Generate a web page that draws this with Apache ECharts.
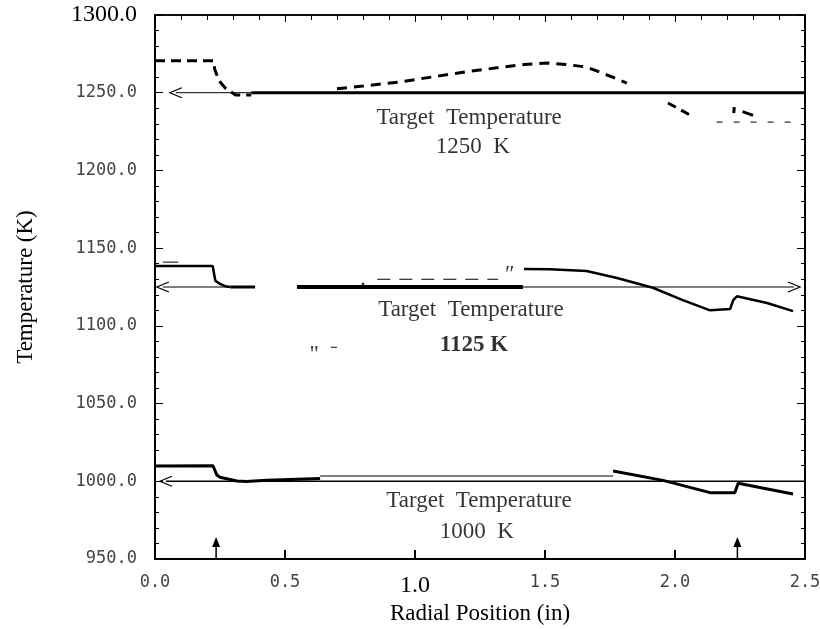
<!DOCTYPE html>
<html><head><meta charset="utf-8">
<script src="https://cdn.jsdelivr.net/npm/echarts@6/dist/echarts.min.js"></script>
<style>html,body{margin:0;padding:0;background:#fff}#c{width:820px;height:629px}</style>
</head><body><div id="c"></div>
<script>
// ---------- data (x in inches, y in K) ----------
const xTickLabels = ['0.0', '0.5', '1.0', '1.5', '2.0', '2.5'];
const yTickLabels = ['950.0', '1000.0', '1050.0', '1100.0', '1150.0', '1200.0', '1250.0', '1300.0'];

// 1250 K case
const target1250Thin = [[0.08, 1250], [0.37, 1250]];
const target1250Thick = [[0.37, 1250], [2.5, 1250]];
const profile1250A = [[0, 1270.5], [0.225, 1270.5], [0.23, 1265], [0.245, 1258], [0.27, 1253], [0.31, 1248.5], [0.37, 1248.5]];
const profile1250B = [[0.70, 1252.5], [0.80, 1254.3], [0.94, 1256.9], [1.10, 1261], [1.20, 1263.6], [1.315, 1266], [1.42, 1268.2], [1.508, 1269.1], [1.58, 1268.2], [1.66, 1266.5], [1.76, 1260], [1.815, 1256.2]];
const profile1250C = [[1.973, 1243.4], [2.058, 1235.6]];
const profile1250D = [[2.16, 1231.1], [2.45, 1231.1]];
const profile1250E = [[2.226, 1236.9], [2.228, 1240.8]];
const profile1250F = [[2.26, 1237.8], [2.30, 1235.4]];

// 1125 K case
const target1125Left = [[0.03, 1125], [0.29, 1125]];
const target1125ThickA = [[0.29, 1125], [0.385, 1125]];
const target1125ThickB = [[0.546, 1125], [1.415, 1125]];
const target1125Right = [[1.415, 1125], [2.458, 1125]];
const profile1125A = [[0, 1138.5], [0.222, 1138.5], [0.232, 1129], [0.25, 1127], [0.27, 1125.5], [0.29, 1125]];
const profile1125Mark = [[0.03, 1141], [0.09, 1141]];
const profile1125Dashed = [[0.855, 1130], [1.32, 1130]];
const profile1125Dot = [[0.80, 1127]];
const profile1125B = [[1.419, 1136.6], [1.519, 1136.4], [1.66, 1135.3], [1.777, 1130.8], [1.915, 1124.5], [2.03, 1116.6], [2.135, 1110], [2.212, 1110.8], [2.224, 1116.6], [2.238, 1119], [2.354, 1114.7], [2.454, 1109.5]];

// 1000 K case
const target1000 = [[0.042, 1000], [2.5, 1000]];
const profile1000A = [[0, 1009.8], [0.223, 1010], [0.238, 1004], [0.25, 1002.6], [0.315, 1000.2], [0.35, 999.8], [0.43, 1000.6], [0.635, 1001.8]];
const profile1000Hollow = [[0.635, 1003.4], [1.762, 1003.4]];
const profile1000B = [[1.762, 1006.6], [1.954, 1000.6], [2.135, 992.7], [2.23, 992.7], [2.243, 998.7], [2.454, 991.8]];

// marker arrows at the bottom
const markerArrowA = [[0.235, 950], [0.235, 961]];
const markerArrowB = [[2.24, 950], [2.24, 961]];

// annotation texts
const annotationX = [1.208, 1.222, 1.215, 1.227, 1.246, 1.238, 1.365, 0.65];
const annotationY = [1233.8, 1215.1, 1110.0, 1087.6, 987.1, 967.2, 1132.5, 1081];
const annotationText = ['Target  Temperature', '1250  K', 'Target  Temperature', '1125 K', 'Target  Temperature', '1000  K', '\u2033', '"  \u207B'];
const annotationBold = [false, false, false, true, false, false, false, false];

// ---------- build ----------
const LEFT_ARROW = 'path://M12,0 L0,6 L12,12';
const RIGHT_ARROW = 'path://M0,0 L12,6 L0,12';
const BLACK = '#000';
const series = [];

function lineSeries(data, width, type, opts) {
  opts = opts || {};
  const d = data.map((p, i) => {
    const item = { value: p };
    if (opts.startArrow && i === 0) {
      item.symbol = opts.startArrow; item.symbolSize = [12, 10];
      item.itemStyle = { color: 'rgba(0,0,0,0)', borderColor: BLACK, borderWidth: 1.2 };
    }
    if (opts.endArrow && i === data.length - 1) {
      item.symbol = opts.endArrow; item.symbolSize = opts.endSize || [12, 10];
      item.itemStyle = opts.endFill ? { color: BLACK, borderWidth: 0 } :
        { color: 'rgba(0,0,0,0)', borderColor: BLACK, borderWidth: 1.2 };
    }
    return item;
  });
  series.push({
    type: 'line', data: d, symbol: 'none', showSymbol: true, silent: true, animation: false,
    lineStyle: { color: BLACK, width: width, type: type || 'solid', cap: 'butt' },
    itemStyle: { color: BLACK }, z: opts.z || 2
  });
}

// 1250
lineSeries(target1250Thin, 1, 'solid', { startArrow: LEFT_ARROW });
lineSeries(target1250Thick, 3);
lineSeries(profile1250A, 3, [10, 6]);
lineSeries(profile1250B, 3, [10, 7]);
lineSeries(profile1250C, 3, [9, 6]);
lineSeries(profile1250D, 1, [6, 11]);
lineSeries(profile1250E, 3);
lineSeries(profile1250F, 3);
// 1125
lineSeries(target1125Left, 1, 'solid', { startArrow: LEFT_ARROW });
lineSeries(target1125ThickA, 3);
lineSeries(target1125ThickB, 4);
lineSeries(target1125Right, 1, 'solid', { endArrow: RIGHT_ARROW });
lineSeries(profile1125A, 2.5);
lineSeries(profile1125Mark, 1);
lineSeries(profile1125Dashed, 1.2, [13, 9]);
lineSeries(profile1125B, 2.5);
series.push({ type: 'scatter', data: profile1125Dot, symbol: 'circle', symbolSize: 3, itemStyle: { color: BLACK }, silent: true, animation: false });
// 1000
lineSeries(target1000, 1.5, 'solid', { startArrow: LEFT_ARROW });
lineSeries(profile1000A, 3);
lineSeries(profile1000Hollow, 1);
lineSeries(profile1000B, 3);
// bottom marker arrows
lineSeries(markerArrowA, 1.5, 'solid', { endArrow: 'triangle', endSize: [8, 10], endFill: true });
lineSeries(markerArrowB, 1.5, 'solid', { endArrow: 'triangle', endSize: [8, 10], endFill: true });

// annotations
annotationText.forEach((t, i) => {
  series.push({
    type: 'scatter', data: [[annotationX[i], annotationY[i]]], symbolSize: 0, silent: true, animation: false,
    label: {
      show: true, position: 'inside', formatter: t, color: BLACK,
      fontFamily: 'Liberation Serif', fontSize: 23, fontWeight: annotationBold[i] ? 'bold' : 'normal'
    }
  });
});

const monoStyle = { fontFamily: 'DejaVu Sans Mono', fontSize: 17, color: '#444' };
const serifStyle = { fontFamily: 'Liberation Serif', fontSize: 24, color: BLACK };

const option = {
  animation: false,
  backgroundColor: '#fff',
  grid: { left: 155, right: 15, top: 15, bottom: 70, outerBoundsMode: 'none', containLabel: false, show: true, borderColor: BLACK, borderWidth: 1.5, backgroundColor: 'transparent' },
  xAxis: [
    {
      type: 'value', min: 0, max: 2.5, interval: 0.5, position: 'bottom',
      name: 'Radial Position (in)', nameLocation: 'middle', nameGap: 43,
      nameTextStyle: { fontFamily: 'Liberation Serif', fontSize: 23, color: BLACK },
      axisLine: { show: true, onZero: false, lineStyle: { color: BLACK, width: 2 } },
      axisTick: { show: true, inside: true, length: 9, lineStyle: { color: BLACK, width: 2 } },
      splitLine: { show: false },
      axisLabel: {
        margin: 15,
        formatter: v => { const i = Math.round(v / 0.5); const s = xTickLabels[i]; return s === '1.0' ? '{s|' + s + '}' : '{m|' + s + '}'; },
        rich: { m: monoStyle, s: serifStyle }
      }
    },
    {
      type: 'value', min: 0, max: 2.5, interval: 0.5, position: 'top',
      axisLine: { show: true, onZero: false, lineStyle: { color: BLACK, width: 1.5 } },
      axisTick: { show: true, inside: true, length: 7, lineStyle: { color: BLACK, width: 1 } },
      minorTick: { show: true, splitNumber: 5, length: 5, lineStyle: { color: BLACK, width: 1 } },
      axisLabel: { show: false }, splitLine: { show: false }
    }
  ],
  yAxis: [
    {
      type: 'value', min: 950, max: 1300, interval: 50, position: 'left',
      name: 'Temperature (K)', nameLocation: 'middle', nameGap: 118, nameRotate: 90,
      nameTextStyle: { fontFamily: 'Liberation Serif', fontSize: 23, color: BLACK },
      axisLine: { show: true, onZero: false, lineStyle: { color: BLACK, width: 2 } },
      axisTick: { show: true, inside: true, length: 8, lineStyle: { color: BLACK, width: 1 } },
      minorTick: { show: true, splitNumber: 5, length: 4, lineStyle: { color: BLACK, width: 1 } },
      splitLine: { show: false },
      axisLabel: {
        margin: 18,
        formatter: v => { const i = Math.round((v - 950) / 50); const s = yTickLabels[i]; return s === '1300.0' ? '{s|' + s + '}' : '{m|' + s + '}'; },
        rich: { m: monoStyle, s: serifStyle }
      }
    },
    {
      type: 'value', min: 950, max: 1300, interval: 50, position: 'right',
      axisLine: { show: true, onZero: false, lineStyle: { color: BLACK, width: 2 } },
      axisTick: { show: true, inside: true, length: 8, lineStyle: { color: BLACK, width: 1 } },
      minorTick: { show: true, splitNumber: 5, length: 4, lineStyle: { color: BLACK, width: 1 } },
      axisLabel: { show: false }, splitLine: { show: false }
    }
  ],
  series: series
};

const chart = echarts.init(document.getElementById('c'), null, { renderer: 'canvas' });
chart.setOption(option);
</script>
</body></html>
